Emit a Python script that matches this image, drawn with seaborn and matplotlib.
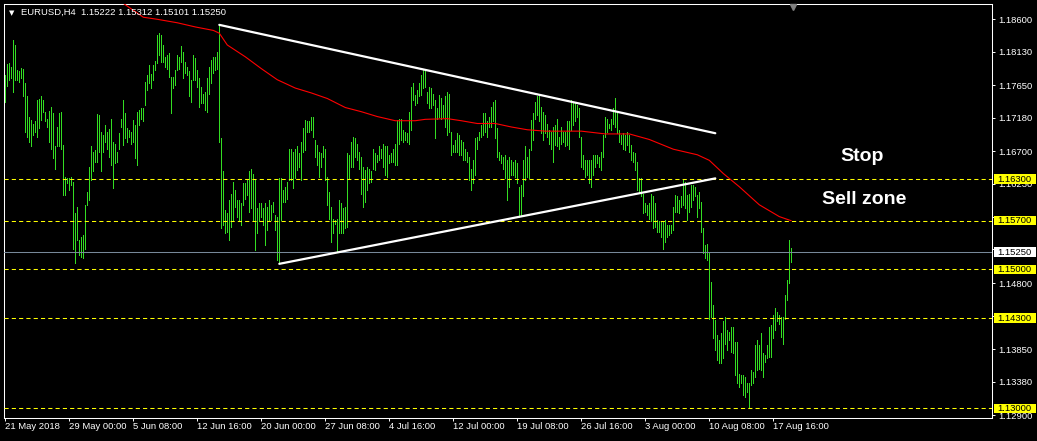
import matplotlib
matplotlib.use("Agg")
import matplotlib.pyplot as plt
import matplotlib.transforms as mtransforms
from matplotlib.patches import Rectangle
import numpy as np
import seaborn as sns

# EURUSD H4 bars (high / low), one per bar from 21 May 2018 00:00
highs = [
    1.1780, 1.1795, 1.1797, 1.1792, 1.1830, 1.1823, 1.1787, 1.1786, 1.1790, 1.1788,
    1.1768, 1.1749, 1.1720, 1.1715, 1.1710, 1.1713, 1.1744, 1.1745, 1.1749, 1.1744,
    1.1727, 1.1717, 1.1728, 1.1734, 1.1725, 1.1677, 1.1705, 1.1725, 1.1727, 1.1679,
    1.1633, 1.1631, 1.1631, 1.1633, 1.1626, 1.1581, 1.1590, 1.1542, 1.1547, 1.1549,
    1.1593, 1.1612, 1.1648, 1.1677, 1.1669, 1.1672, 1.1723, 1.1722, 1.1698, 1.1693,
    1.1708, 1.1698, 1.1702, 1.1717, 1.1684, 1.1681, 1.1669, 1.1696, 1.1717, 1.1744,
    1.1725, 1.1703, 1.1701, 1.1698, 1.1715, 1.1708, 1.1726, 1.1729, 1.1732, 1.1733,
    1.1770, 1.1780, 1.1794, 1.1781, 1.1794, 1.1800, 1.1837, 1.1840, 1.1837, 1.1823,
    1.1806, 1.1809, 1.1811, 1.1777, 1.1777, 1.1787, 1.1809, 1.1806, 1.1821, 1.1813,
    1.1799, 1.1792, 1.1785, 1.1773, 1.1809, 1.1804, 1.1787, 1.1775,
    1.1763, 1.1753, 1.1756, 1.1775, 1.1792, 1.1801, 1.1806, 1.1806, 1.1813, 1.1852,
    1.1689, 1.1641, 1.1585, 1.1581, 1.1600, 1.1609, 1.1626, 1.1614, 1.1600, 1.1600,
    1.1595, 1.1624, 1.1624, 1.1629, 1.1641, 1.1645, 1.1638, 1.1629, 1.1588, 1.1595,
    1.1595, 1.1588, 1.1595, 1.1590, 1.1600, 1.1593, 1.1597, 1.1578, 1.1576, 1.1631,
    1.1631, 1.1614, 1.1619, 1.1626, 1.1674, 1.1674, 1.1669, 1.1674, 1.1677, 1.1667,
    1.1684, 1.1703, 1.1715, 1.1713, 1.1713, 1.1720, 1.1720, 1.1686, 1.1679, 1.1669,
    1.1667, 1.1677, 1.1674, 1.1633, 1.1612, 1.1590, 1.1573, 1.1571, 1.1573, 1.1600,
    1.1595, 1.1588, 1.1590, 1.1667, 1.1665, 1.1684, 1.1691, 1.1689, 1.1681, 1.1669,
    1.1662, 1.1648, 1.1643, 1.1648, 1.1645, 1.1641, 1.1674, 1.1667, 1.1665, 1.1677,
    1.1674, 1.1681, 1.1677, 1.1677, 1.1665, 1.1667, 1.1674, 1.1681, 1.1715, 1.1717,
    1.1717, 1.1701, 1.1698, 1.1696, 1.1727, 1.1763, 1.1768, 1.1751, 1.1758, 1.1768,
    1.1780, 1.1789, 1.1785, 1.1756, 1.1763, 1.1761, 1.1753, 1.1744, 1.1732, 1.1751,
    1.1746, 1.1737, 1.1749, 1.1756, 1.1753, 1.1698, 1.1679, 1.1686, 1.1696, 1.1693,
    1.1686, 1.1684, 1.1674, 1.1669, 1.1662, 1.1645, 1.1657, 1.1689, 1.1691, 1.1698,
    1.1708, 1.1725, 1.1725, 1.1713, 1.1720, 1.1734, 1.1741, 1.1744, 1.1703, 1.1669,
    1.1665, 1.1662, 1.1665, 1.1657, 1.1662, 1.1657, 1.1655, 1.1657, 1.1653, 1.1619,
    1.1621, 1.1657, 1.1677, 1.1662, 1.1674, 1.1715, 1.1725, 1.1741, 1.1749, 1.1749,
    1.1734, 1.1727, 1.1722, 1.1710, 1.1701, 1.1698, 1.1705, 1.1708, 1.1717, 1.1691,
    1.1705, 1.1698, 1.1698, 1.1713, 1.1713, 1.1744, 1.1741, 1.1739, 1.1737, 1.1732,
    1.1691, 1.1665, 1.1657, 1.1657, 1.1657, 1.1657, 1.1665, 1.1665, 1.1665, 1.1662,
    1.1669, 1.1693,
    1.1720, 1.1717, 1.1710, 1.1717, 1.1732, 1.1746, 1.1725, 1.1701, 1.1693, 1.1696,
    1.1693, 1.1698, 1.1693, 1.1679, 1.1669, 1.1667, 1.1655, 1.1631, 1.1631, 1.1609,
    1.1595, 1.1593, 1.1595, 1.1609, 1.1605, 1.1595, 1.1571, 1.1569, 1.1569, 1.1569,
    1.1571, 1.1564, 1.1564, 1.1564, 1.1590, 1.1607, 1.1605, 1.1600, 1.1605, 1.1629,
    1.1626, 1.1607, 1.1609, 1.1621, 1.1621, 1.1619, 1.1607, 1.1612, 1.1597, 1.1559,
    1.1535, 1.1537, 1.1523, 1.1482, 1.1449, 1.1427, 1.1405, 1.1398, 1.1408, 1.1425,
    1.1432, 1.1413, 1.1410, 1.1417, 1.1417, 1.1396, 1.1396, 1.1350, 1.1348, 1.1348,
    1.1345, 1.1336, 1.1336, 1.1355, 1.1353, 1.1391, 1.1398, 1.1391, 1.1408, 1.1379,
    1.1377, 1.1391, 1.1417, 1.1420, 1.1434, 1.1444, 1.1439, 1.1434, 1.1432, 1.1432,
    1.1463, 1.1485, 1.1542, 1.1531,
]
lows = [
    1.1741, 1.1764, 1.1773, 1.1775, 1.1756, 1.1773, 1.1773, 1.1770, 1.1775, 1.1749,
    1.1698, 1.1691, 1.1684, 1.1677, 1.1693, 1.1698, 1.1691, 1.1703, 1.1715, 1.1727,
    1.1713, 1.1705, 1.1684, 1.1674, 1.1660, 1.1645, 1.1677, 1.1677, 1.1674, 1.1607,
    1.1607, 1.1624, 1.1614, 1.1621, 1.1530, 1.1509, 1.1542, 1.1521, 1.1518, 1.1516,
    1.1530, 1.1593, 1.1600, 1.1629, 1.1641, 1.1655, 1.1655, 1.1669, 1.1641, 1.1669,
    1.1684, 1.1674, 1.1662, 1.1650, 1.1617, 1.1653, 1.1655, 1.1674, 1.1705, 1.1679,
    1.1689, 1.1684, 1.1691, 1.1681, 1.1684, 1.1660, 1.1650, 1.1708, 1.1717, 1.1713,
    1.1737, 1.1758, 1.1768, 1.1761, 1.1773, 1.1787, 1.1797, 1.1809, 1.1799, 1.1799,
    1.1792, 1.1789, 1.1777, 1.1725, 1.1761, 1.1765, 1.1787, 1.1789, 1.1799, 1.1775,
    1.1782, 1.1780, 1.1749, 1.1741, 1.1773, 1.1773, 1.1763, 1.1734,
    1.1739, 1.1739, 1.1729, 1.1727, 1.1753, 1.1768, 1.1782, 1.1787, 1.1789, 1.1684,
    1.1559, 1.1564, 1.1552, 1.1554, 1.1542, 1.1561, 1.1571, 1.1590, 1.1576, 1.1571,
    1.1564, 1.1593, 1.1602, 1.1607, 1.1583, 1.1588, 1.1569, 1.1528, 1.1552, 1.1569,
    1.1576, 1.1564, 1.1535, 1.1557, 1.1569, 1.1571, 1.1583, 1.1557, 1.1513, 1.1510,
    1.1571, 1.1597, 1.1597, 1.1602, 1.1629, 1.1629, 1.1617, 1.1631, 1.1643, 1.1648,
    1.1629, 1.1669, 1.1672, 1.1698, 1.1698, 1.1701, 1.1691, 1.1662, 1.1650, 1.1633,
    1.1648, 1.1662, 1.1629, 1.1593, 1.1573, 1.1540, 1.1552, 1.1566, 1.1525, 1.1552,
    1.1552, 1.1552, 1.1559, 1.1561, 1.1631, 1.1648, 1.1648, 1.1662, 1.1657, 1.1645,
    1.1609, 1.1590, 1.1597, 1.1614, 1.1624, 1.1626, 1.1645, 1.1643, 1.1655, 1.1657,
    1.1660, 1.1648, 1.1636, 1.1633, 1.1653, 1.1655, 1.1655, 1.1650, 1.1650, 1.1681,
    1.1686, 1.1684, 1.1686, 1.1684, 1.1681, 1.1701, 1.1744, 1.1737, 1.1739, 1.1749,
    1.1751, 1.1761, 1.1763, 1.1739, 1.1732, 1.1732, 1.1737, 1.1689, 1.1717, 1.1720,
    1.1717, 1.1720, 1.1705, 1.1693, 1.1698, 1.1665, 1.1669, 1.1669, 1.1669, 1.1665,
    1.1665, 1.1657, 1.1657, 1.1655, 1.1629, 1.1614, 1.1624, 1.1636, 1.1674, 1.1686,
    1.1691, 1.1693, 1.1698, 1.1691, 1.1705, 1.1705, 1.1713, 1.1689, 1.1662, 1.1657,
    1.1653, 1.1645, 1.1631, 1.1600, 1.1619, 1.1636, 1.1636, 1.1633, 1.1624, 1.1576,
    1.1578, 1.1605, 1.1629, 1.1633, 1.1631, 1.1672, 1.1686, 1.1717, 1.1722, 1.1713,
    1.1696, 1.1686, 1.1696, 1.1691, 1.1681, 1.1674, 1.1655, 1.1679, 1.1677, 1.1674,
    1.1681, 1.1684, 1.1677, 1.1679, 1.1674, 1.1701, 1.1708, 1.1713, 1.1720, 1.1691,
    1.1648, 1.1645, 1.1633, 1.1636, 1.1624, 1.1619, 1.1636, 1.1648, 1.1653, 1.1648,
    1.1643, 1.1662,
    1.1691, 1.1698, 1.1703, 1.1701, 1.1710, 1.1705, 1.1696, 1.1684, 1.1681, 1.1674,
    1.1672, 1.1679, 1.1669, 1.1657, 1.1655, 1.1643, 1.1614, 1.1612, 1.1605, 1.1581,
    1.1583, 1.1578, 1.1573, 1.1569, 1.1559, 1.1561, 1.1554, 1.1554, 1.1547, 1.1530,
    1.1540, 1.1547, 1.1549, 1.1552, 1.1557, 1.1583, 1.1583, 1.1581, 1.1590, 1.1593,
    1.1588, 1.1571, 1.1583, 1.1590, 1.1600, 1.1605, 1.1576, 1.1588, 1.1554, 1.1523,
    1.1516, 1.1513, 1.1429, 1.1432, 1.1401, 1.1384, 1.1369, 1.1365, 1.1365, 1.1372,
    1.1393, 1.1384, 1.1398, 1.1381, 1.1379, 1.1348, 1.1336, 1.1331, 1.1336, 1.1319,
    1.1317, 1.1324, 1.1300, 1.1333, 1.1336, 1.1345, 1.1355, 1.1357, 1.1355, 1.1345,
    1.1367, 1.1372, 1.1374, 1.1374, 1.1401, 1.1413, 1.1425, 1.1422, 1.1403, 1.1393,
    1.1429, 1.1456, 1.1480, 1.1510,
]

# moving average (red), read at a few bars
ma_bars = [58, 60, 69, 76, 86, 95, 104, 107, 111, 120, 128, 136, 145, 153, 161, 170,
           178, 186, 195, 205, 210, 221, 228, 236, 245, 253, 261, 270, 288, 300,
           312, 322, 334, 346, 352, 359, 367, 377, 387, 393]
ma_values = [1.1885, 1.1881, 1.1863, 1.1860, 1.1855, 1.1849, 1.1844, 1.1840, 1.1823,
             1.1806, 1.1789, 1.1773, 1.1761, 1.1754, 1.1746, 1.1733, 1.1727, 1.1720,
             1.1714, 1.1714, 1.1716, 1.1717, 1.1714, 1.1710, 1.1710, 1.1705, 1.1701,
             1.1699, 1.1699, 1.1695, 1.1695, 1.1687, 1.1673, 1.1665, 1.1657, 1.1638,
             1.1619, 1.1593, 1.1576, 1.1570]

upper_trend_bars = [107, 355]
upper_trend_prices = [1.1852, 1.1696]
lower_trend_bars = [137, 355]
lower_trend_prices = [1.1508, 1.1631]

levels = [1.1630, 1.1570, 1.1500, 1.1430, 1.1300]
last_price = 1.15250

price_ticks = [1.18600, 1.18130, 1.17650, 1.17180, 1.16700, 1.16230, 1.15760,
               1.15290, 1.14800, 1.14330, 1.13850, 1.13380, 1.12900]
hidden_ticks = [1.15760, 1.15290, 1.14330]   # covered by the price boxes
date_bars = [0, 32, 64, 96, 128, 160, 192, 224, 256, 288, 320, 352, 384]
date_labels = ["21 May 2018", "29 May 00:00", "5 Jun 08:00", "12 Jun 16:00",
               "20 Jun 00:00", "27 Jun 08:00", "4 Jul 16:00", "12 Jul 00:00",
               "19 Jul 08:00", "26 Jul 16:00", "3 Aug 00:00", "10 Aug 08:00",
               "17 Aug 16:00"]
header = "EURUSD,H4  1.15222 1.15312 1.15101 1.15250"

sns.set_theme(style="dark", rc={"axes.facecolor": "black", "figure.facecolor": "black"})
plt.rcParams['font.family'] = ['Liberation Sans', 'DejaVu Sans']

W, H = 1037, 441
fig = plt.figure(figsize=(W / 100, H / 100), dpi=100)
ax = fig.add_axes([4 / W, 23 / H, 988 / W, 414 / H])
ax.set_facecolor("black")

bars = np.arange(len(highs))
ax.vlines(bars, lows, highs, colors="#33dd22", lw=0.7, antialiased=False, zorder=2)

for lv in levels:
    ax.axhline(lv, color="#ffff00", lw=0.75, ls=(0, (4, 3)), zorder=3)
ax.axhline(last_price, color="#778899", lw=0.75, zorder=3)

sns.lineplot(x=ma_bars, y=ma_values, ax=ax, color="#ff0000", lw=0.8, zorder=4)
ax.plot(upper_trend_bars, upper_trend_prices, color="white", lw=1.6, zorder=5)
ax.plot(lower_trend_bars, lower_trend_prices, color="white", lw=1.6, zorder=5)

ax.set_xlim(-0.65, 493.35)
ax.set_ylim(1.128608, 1.188202)
ax.grid(False)
for s in ax.spines.values():
    s.set_visible(True)
    s.set_color("white")
    s.set_linewidth(0.75)

ax.set_yticks(price_ticks)
ax.set_yticklabels(["" if v in hidden_ticks else f"{v:.5f}" for v in price_ticks])
ax.tick_params(axis="y", left=False, right=True, labelleft=False, labelright=True,
               colors="white", length=2.2, width=0.7, pad=2.2, labelsize=6.8)
ax.set_xticks(date_bars)
ax.set_xticklabels(date_labels)
ax.tick_params(axis="x", bottom=True, colors="white", length=2.2, width=0.7,
               pad=0.8, labelsize=6.8)
for lbl in ax.get_xticklabels():
    lbl.set_horizontalalignment("left")
ax.set_xlabel("")
ax.set_ylabel("")

# price boxes on the right scale
trans = mtransforms.blended_transform_factory(ax.transAxes, ax.transData)
bx0 = (994 - 4) / 988
bw = 42 / 988
bh = 9.4 / 6947
tx = (997 - 4) / 988
for lv in levels:
    ax.add_patch(Rectangle((bx0, lv - bh / 2), bw, bh, transform=trans,
                           facecolor="#ffff00", edgecolor="none", clip_on=False, zorder=10))
    ax.text(tx, lv, f"{lv:.5f}", transform=trans, color="black", fontsize=6.8,
            ha="left", va="center", clip_on=False, zorder=11)
ax.add_patch(Rectangle((bx0, last_price - bh / 2), bw, bh, transform=trans,
                       facecolor="white", edgecolor="none", clip_on=False, zorder=10))
ax.text(tx, last_price, f"{last_price:.5f}", transform=trans, color="black",
        fontsize=6.8, ha="left", va="center", clip_on=False, zorder=11)

# notes
ax.text(428.6, 1.16618, "Stop", color="white", fontsize=14, fontweight="bold",
        ha="center", va="center", zorder=12)
ax.text(429.4, 1.16009, "Sell zone", color="white", fontsize=14, fontweight="bold",
        ha="center", va="center", zorder=12)

# header and chart-shift marker
fig.text(12 / W, 1 - 12.7 / H, "▼", color="white", fontsize=5, ha="center",
         va="center", family=["DejaVu Sans"])
fig.text(21 / W, 1 - 12.7 / H, header, color="white", fontsize=6.8, ha="left", va="center")
ax.plot([393.9], [1.1877], marker="v", color="#808080", ms=5, clip_on=False, zorder=6)

fig.savefig("out.png", dpi=100, facecolor="black")
